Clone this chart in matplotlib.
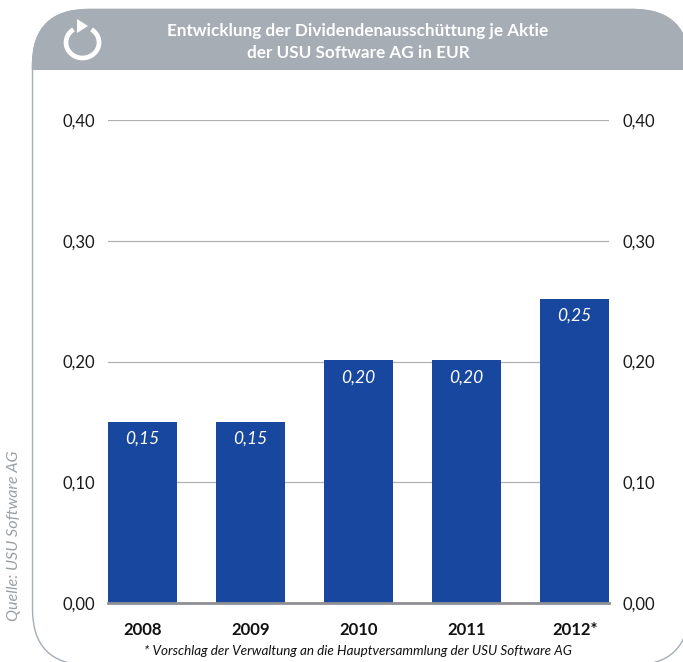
import matplotlib
matplotlib.use("Agg")
import matplotlib.pyplot as plt
import matplotlib.patches as patches
import numpy as np

plt.rcParams['font.family'] = ['Lato', 'DejaVu Sans']

years = ["2008", "2009", "2010", "2011", "2012*"]
dividends = [0.15, 0.15, 0.201, 0.201, 0.252]
value_labels = ["0,15", "0,15", "0,20", "0,20", "0,25"]
yticks = [0.0, 0.1, 0.2, 0.3, 0.4]
ytick_labels = ["0,00", "0,10", "0,20", "0,30", "0,40"]

W, H = 683, 662
GREY = "#a6adb4"
BLUE = "#17479e"

fig = plt.figure(figsize=(W / 100, H / 100), dpi=100)

# background in pixel coordinates
bg = fig.add_axes([0, 0, 1, 1])
bg.set_xlim(0, W)
bg.set_ylim(H, 0)
bg.axis("off")

R = 56
box = (32.5 + R, 9.5 + R)
box_w = 689 - 32.5 - 2 * R
box_h = 665 - 9.5 - 2 * R
style = f"round,pad={R},rounding_size={R}"
bg.add_patch(patches.FancyBboxPatch(box, box_w, box_h, boxstyle=style,
                                    fc="white", ec=GREY, lw=1))
head = patches.FancyBboxPatch(box, box_w, box_h, boxstyle=style, fc=GREY, ec=GREY, lw=1)
bg.add_patch(head)
head.set_clip_path(patches.Rectangle((0, 0), W, 70, transform=bg.transData))

# reload icon
t = np.radians(np.linspace(-57, 237, 80))
bg.plot(82.5 + 16.5 * np.cos(t), 42.5 + 15.5 * np.sin(t), color="white", lw=3.4,
        solid_capstyle="butt")
bg.add_patch(patches.Polygon([(77, 19), (77, 33), (88, 26)], fc="white", ec="none"))

bg.text(358, 31, "Entwicklung der Dividendenausschüttung je Aktie", color="white",
        fontsize=12.3, fontweight="bold", ha="center", va="center")
bg.text(358, 53, "der USU Software AG in EUR", color="white",
        fontsize=12.3, fontweight="bold", ha="center", va="center")

# chart area: x 108-609, y 0.40 at px 120, 0 at px 603
ax = fig.add_axes([108 / W, 1 - 603 / H, 501 / W, 483 / H])
ax.patch.set_alpha(0)
x = np.arange(len(years))
ax.set_xlim(-0.317, 4.317)
ax.set_ylim(0, 0.4)
for s in ax.spines.values():
    s.set_visible(False)
ax.set_axisbelow(True)
ax.yaxis.grid(True, color="#b0b0b0", lw=0.9)
ax.bar(x, dividends, width=0.634, color=BLUE, zorder=3)
ax.axhline(0, color="#8f8f94", lw=2, zorder=4, clip_on=False)

ax.set_yticks(yticks)
ax.set_yticklabels(ytick_labels, fontsize=12, color="#1a1a1a")
ax.tick_params(axis="y", length=0, pad=9.5, labelright=True)
ax.set_xticks(x)
ax.set_xticklabels(years, fontsize=12, fontweight="bold", color="#111111")
ax.tick_params(axis="x", length=0, pad=14)

for xi, v, lab in zip(x, dividends, value_labels):
    ax.annotate(lab, (xi, v), xytext=(0, -17), textcoords="offset pixels",
                ha="center", va="center", color="white", fontsize=12.5,
                style="italic", zorder=5)

bg.text(358, 651, "* Vorschlag der Verwaltung an die Hauptversammlung der USU Software AG",
        fontsize=9.7, style="italic", color="#111111", ha="center", va="center")
bg.text(14, 536, "Quelle: USU Software AG", rotation=90, fontsize=11.6, style="italic",
        color="#9a9fa5", ha="center", va="center")

fig.savefig("out.png", dpi=100)
